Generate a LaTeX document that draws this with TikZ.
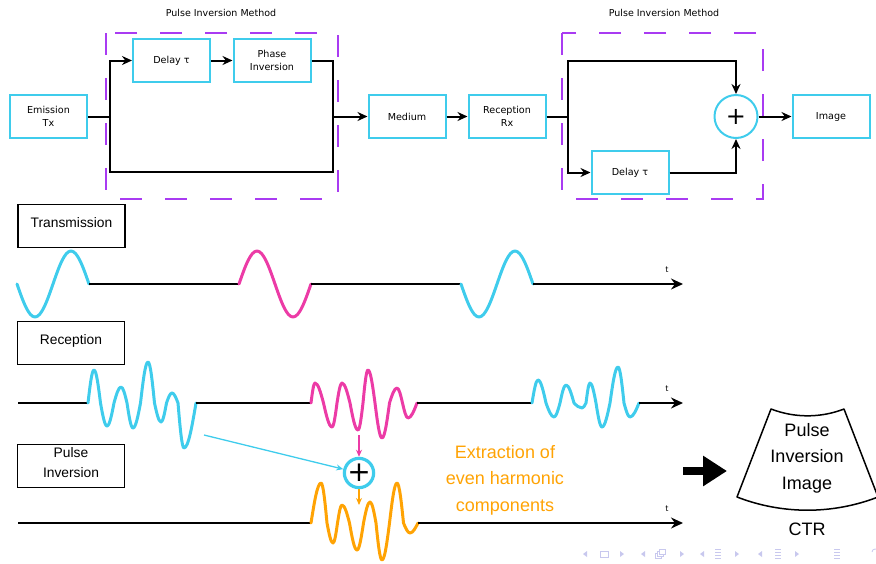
\documentclass[tikz,border=0pt]{standalone}
\usepackage{fontspec}
\setmainfont{DejaVu Sans}
\newfontfamily\arialfont{Liberation Sans}
\usetikzlibrary{arrows.meta}

\definecolor{picyan}{HTML}{3FCCEC}
\definecolor{pimagenta}{HTML}{EC3BA6}
\definecolor{piorange}{HTML}{FFA304}
\definecolor{pipurple}{HTML}{A93BF2}
\definecolor{navgrey}{HTML}{C8C8EE}

\begin{document}
\begin{tikzpicture}
        [
          x=1pt,y=-1pt,
          block/.style={draw=picyan,line width=2pt,minimum width=77pt,minimum height=43pt,align=center,font=\fontsize{9.6}{13}\selectfont},
          wire/.style={black,line width=2pt},
          tip/.style={-{Stealth[length=10pt,width=9pt]}},
          method/.style={draw=pipurple,line width=2pt,dash pattern=on 22pt off 23pt},
          rowbox/.style={draw,line width=1.3pt,minimum width=107pt,minimum height=43pt,text depth=7pt,align=center,font=\arialfont\fontsize{13.8}{20}\selectfont},
          wave/.style={line width=3pt,line cap=round,line join=round},
          timeline/.style={black,line width=1.5pt},
          timetip/.style={-{Stealth[length=12pt,width=11pt]}},
          small/.style={line width=1.3pt,-{Stealth[length=7pt,width=6pt]}},
          big/.style={font=\arialfont\fontsize{18}{26.5}\selectfont,align=center}
        ]
        \useasboundingbox (0,0) rectangle (876,563);
        % pulse inversion, emission side
        \node (titleL) at (221,13) {\fontsize{9.5}{11}\selectfont Pulse Inversion Method};
        \draw[method] (106,33) rectangle (338,199);
        \node [block] (emis) at (48.5,116.5) {Emission\\Tx};
        \node [block] (delayA) at (171.5,60.5) {Delay τ};
        \node [block] (phase) at (272,60.5) {Phase\\Inversion};
        \node [block] (medium) at (407,116.5) {Medium};
        \coordinate (splitL) at (110,116.5);
        \coordinate (joinL) at (333,116.5);
        \coordinate (lowL) at (333,172);
        \draw[wire] (emis) -- (splitL);
        \draw[wire,tip] (splitL) |- (delayA);
        \draw[wire,tip] (delayA) -- (phase);
        \draw[wire] (phase) -| (joinL) -- (lowL) -| (splitL);
        \draw[wire,tip] (joinL) -- (medium);
        % pulse inversion, reception side
        \node (titleR) at (664,13) {\fontsize{9.5}{11}\selectfont Pulse Inversion Method};
        \draw[method] (562,33) rectangle (763,199);
        \node [block] (recep) at (507,116.5) {Reception\\Rx};
        \node [block] (delayB) at (630,172.5) {Delay τ};
        \node [circle,draw=picyan,line width=2pt,minimum size=43pt,inner sep=0pt] (sumA) at (736,116.5) {\fontsize{24}{24}\selectfont +};
        \node [block] (image) at (831,116.5) {Image};
        \coordinate (splitR) at (568,116.5);
        \coordinate (topR) at (736,61);
        \draw[wire,tip] (medium) -- (recep);
        \draw[wire] (recep) -- (splitR);
        \draw[wire,tip] (splitR) |- (topR) -- (sumA);
        \draw[wire,tip] (splitR) |- (delayB);
        \draw[wire,tip] (delayB) -| (sumA);
        \draw[wire,tip] (sumA) -- (image);

        % transmission
        \node [rowbox] (trans) at (71.5,226) {Transmission};
        \draw[picyan,wave] (17,284) sin (35,317) cos (53,284) sin (71,251) cos (89,284);
        \draw[timeline] (89,284) -- (239,284);
        \draw[pimagenta,wave] (239,284) sin (257,251) cos (275,284) sin (293,317) cos (311,284);
        \draw[timeline] (311,284) -- (461,284);
        \draw[picyan,wave] (461,284) sin (479,317) cos (497,284) sin (515,251) cos (533,284);
        \draw[timeline,timetip] (533,284) -- (683,284);
        % reception
        \node [rowbox] (recv) at (71,343) {Reception};
        \draw[timeline] (18,403) -- (88,403);
        \draw[picyan,wave] (88,403) \foreach \p/\v/\z in {94/370/100.5,107/426/114,121/387/127,133/428/140.5,148/362/154.5,161/422/166.5,172/393/178,184/448/196} { sin (\p,\v) cos (\z,403) };
        \draw[timeline] (196,403) -- (311,403);
        \draw[pimagenta,wave] (311,403) \foreach \p/\v/\z in {315/383/323.5,332/427/337,342/383/350,358/430/363,368/370/375,382/438/389.5,397/388/402.5,408/418/417} { sin (\p,\v) cos (\z,403) };
        \draw[timeline] (417,403) -- (532,403);
        \draw[picyan,wave] (532,403) \foreach \p/\v/\z in {538/380/546,554/417/560,566/385/574,582/408/586,590/383/596,602/427/610,618/367/624,630/417/639} { sin (\p,\v) cos (\z,403) };
        \draw[timeline,timetip] (639,403) -- (683,403);
        % pulse inversion sum
        \node [rowbox] (pinv) at (71,466) {Pulse\\Inversion};
        \node [circle,draw=picyan,line width=3.2pt,minimum size=28pt,inner sep=0pt] (sumB) at (359,473) {\fontsize{28}{28}\selectfont +};
        \coordinate (fromcyan) at (204,435);
        \coordinate (frommag) at (359,435);
        \coordinate (toorange) at (359,505);
        \draw[picyan,small] (fromcyan) -- (sumB);
        \draw[pimagenta,small] (frommag) -- (sumB);
        \draw[piorange,small] (sumB) -- (toorange);
        \draw[timeline] (18,523) -- (311,523);
        \draw[piorange,wave] (311,523) \foreach \p/\v/\z in {321/483/327,333/543/337.5,342/505/349.5,357/550/363.5,370/502/376,382/560/389.5,397/483/403.5,410/533/418} { sin (\p,\v) cos (\z,523) };
        \draw[timeline,timetip] (418,523) -- (683,523);
        \foreach \r/\y in {tx/270,rx/389,pi/509} {
            \node (t\r) at (667,\y) {\fontsize{8}{8}\selectfont t};
        }
        \node [big,text=piorange] (extract) at (505,480) {Extraction of\\even harmonic\\components};

        % CTR image
        \coordinate (arrA) at (683,471);
        \coordinate (arrB) at (727,471);
        \draw[line width=8pt,-{Triangle[length=24pt,width=29pt]}] (arrA) -- (arrB);
        \draw[line width=1.5pt,line join=round] (771,409) -- (737,497)
        arc[start angle=111.2,end angle=68.8,radius=195] -- (844,409)
        arc[start angle=68.8,end angle=111.2,radius=100.8] -- cycle;
        \node [big] (ctrimg) at (807,458) {Pulse\\Inversion\\Image};
        \node [big] (ctr) at (807,529) {CTR};

        % navigation symbols
        \foreach \x in {585,643,702,760} {
            \fill [navgrey] (\x-2,554) -- (\x+2,551) -- (\x+2,557) -- cycle;
        }
        \foreach \x in {622,682,737,797} {
            \fill [navgrey] (\x+2,554) -- (\x-2,551) -- (\x-2,557) -- cycle;
        }
        \draw [navgrey,line width=0.9pt] (600,551) rectangle (608,557);
        \foreach \d in {0,2,4} {
            \draw [navgrey,fill=white,line width=0.8pt] (655+\d,553-\d) rectangle (661+\d,558-\d);
        }
        \foreach \x in {718,778,837} {
            \foreach \y in {549,552,555,558} {
                \draw [navgrey,line width=0.8pt] (\x-3,\y) -- (\x+3,\y);
            }
        }
        \draw [navgrey,line width=0.8pt] (872,552) arc[start angle=180,end angle=300,radius=3];
      \end{tikzpicture}
\end{document}
